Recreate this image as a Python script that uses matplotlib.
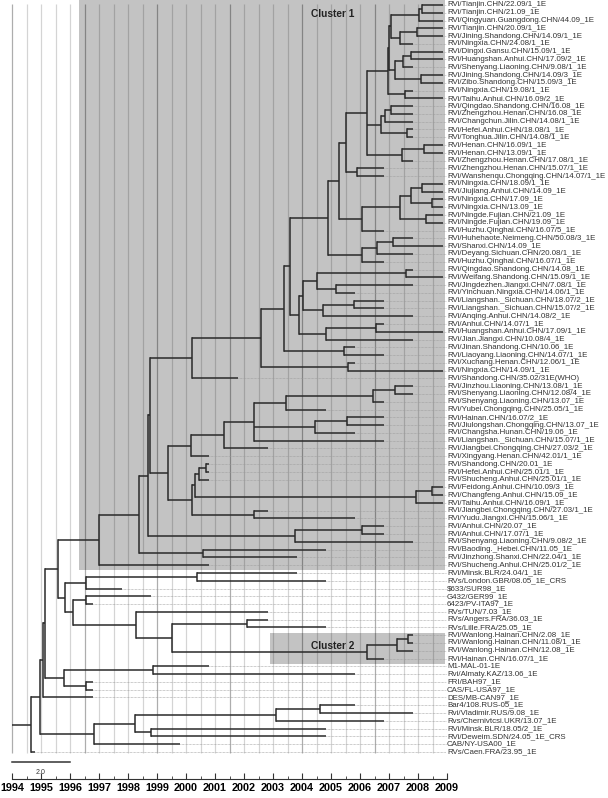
import numpy as np
import matplotlib.pyplot as plt
from matplotlib.patches import Rectangle

plt.rcParams['font.family'] = ['Liberation Sans', 'DejaVu Sans']

labels = [
    "RVi/Tianjin.CHN/22.09/1_1E", "RVi/Tianjin.CHN/21.09_1E", "RVi/Qingyuan.Guangdong.CHN/44.09_1E",
    "RVi/Tianjin.CHN/20.09/1_1E", "RVi/Jining.Shandong.CHN/14.09/1_1E", "RVi/Ningxia.CHN/24.08/1_1E",
    "RVi/Dingxi.Gansu.CHN/15.09/1_1E", "RVi/Huangshan.Anhui.CHN/17.09/2_1E", "RVi/Shenyang.Liaoning.CHN/9.08/1_1E",
    "RVi/Jining.Shandong.CHN/14.09/3_1E", "RVi/Zibo.Shandong.CHN/15.09/3_1E", "RVi/Ningxia.CHN/19.08/1_1E",
    "RVi/Taihu.Anhui.CHN/16.09/2_1E", "RVi/Qingdao.Shandong.CHN/16.08_1E", "RVi/Zhengzhou.Henan.CHN/16.08_1E",
    "RVi/Changchun.Jilin.CHN/14.08/1_1E", "RVi/Hefei.Anhui.CHN/18.08/1_1E", "RVi/Tonghua.Jilin.CHN/14.08/1_1E",
    "RVi/Henan.CHN/16.09/1_1E", "RVi/Henan.CHN/13.09/1_1E", "RVi/Zhengzhou.Henan.CHN/17.08/1_1E",
    "RVi/Zhengzhou.Henan.CHN/15.07/1_1E", "RVi/Wanshenqu.Chongqing.CHN/14.07/1_1E", "RVi/Ningxia.CHN/18.09/1_1E",
    "RVi/Jiujiang.Anhui.CHN/14.09_1E", "RVi/Ningxia.CHN/17.09_1E", "RVi/Ningxia.CHN/13.09_1E",
    "RVi/Ningde.Fujian.CHN/21.09_1E", "RVi/Ningde.Fujian.CHN/19.09_1E", "RVi/Huzhu.Qinghai.CHN/16.07/5_1E",
    "RVi/Huhehaote.Neimeng.CHN/50.08/3_1E", "RVi/Shanxi.CHN/14.09_1E", "RVi/Deyang.Sichuan.CHN/20.08/1_1E",
    "RVi/Huzhu.Qinghai.CHN/16.07/1_1E", "RVi/Qingdao.Shandong.CHN/14.08_1E", "RVi/Weifang.Shandong.CHN/15.09/1_1E",
    "RVi/Jingdezhen.Jiangxi.CHN/7.08/1_1E", "RVi/Yinchuan.Ningxia.CHN/14.06/1_1E",
    "RVi/Liangshan._Sichuan.CHN/18.07/2_1E", "RVi/Liangshan._Sichuan.CHN/15.07/2_1E",
    "RVi/Anqing.Anhui.CHN/14.08/2_1E", "RVi/Anhui.CHN/14.07/1_1E", "RVi/Huangshan.Anhui.CHN/17.09/1_1E",
    "RVi/Jian.Jiangxi.CHN/10.08/4_1E", "RVi/Jinan.Shandong.CHN/10.06_1E", "RVi/Liaoyang.Liaoning.CHN/14.07/1_1E",
    "RVi/Xuchang.Henan.CHN/12.06/1_1E", "RVi/Ningxia.CHN/14.09/1_1E", "RVi/Shandong.CHN/35.02/31E(WHO)",
    "RVi/Jinzhou.Liaoning.CHN/13.08/1_1E", "RVi/Shenyang.Liaoning.CHN/12.08/4_1E", "RVi/Shenyang.Liaoning.CHN/13.07_1E",
    "RVi/Yubei.Chongqing.CHN/25.05/1_1E", "RVi/Hainan.CHN/16.07/2_1E", "RVi/Jiulongshan.Chongqing.CHN/13.07_1E",
    "RVi/Changsha.Hunan.CHN/19.06_1E", "RVi/Liangshan._Sichuan.CHN/15.07/1_1E", "RVi/Jiangbei.Chongqing.CHN/27.03/2_1E",
    "RVi/Xingyang.Henan.CHN/42.01/1_1E", "RVi/Shandong.CHN/20.01_1E", "RVi/Hefei.Anhui.CHN/25.01/1_1E",
    "RVi/Shucheng.Anhui.CHN/25.01/1_1E", "RVi/Feidong.Anhui.CHN/10.09/3_1E", "RVi/Changfeng.Anhui.CHN/15.09_1E",
    "RVi/Taihu.Anhui.CHN/16.09/1_1E", "RVi/Jiangbei.Chongqing.CHN/27.03/1_1E", "RVi/Yudu.Jiangxi.CHN/15.06/1_1E",
    "RVi/Anhui.CHN/20.07_1E", "RVi/Anhui.CHN/17.07/1_1E", "RVi/Shenyang.Liaoning.CHN/9.08/2_1E",
    "RVi/Baoding._Hebei.CHN/11.05_1E", "RVi/Jinzhong.Shanxi.CHN/22.04/1_1E", "RVi/Shucheng.Anhui.CHN/25.01/2_1E",
    "RVi/Minsk.BLR/24.04/1_1E", "RVs/London.GBR/08.05_1E_CRS", "$633/SUR98_1E", "G432/GER99_1E",
    "6423/PV-ITA97_1E", "RVs/TUN/7.03_1E", "RVs/Angers.FRA/36.03_1E", "RVs/Lille.FRA/25.05_1E",
    "RVi/Wanlong.Hainan.CHN/2.08_1E", "RVi/Wanlong.Hainan.CHN/11.08/1_1E", "RVi/Wanlong.Hainan.CHN/12.08_1E",
    "RVi/Hainan.CHN/16.07/1_1E", "M1-MAL-01-1E", "Rvi/Almaty.KAZ/13.06_1E", "FRI/BAH97_1E",
    "CAS/FL-USA97_1E", "DES/MB-CAN97_1E", "Bar4/108.RUS-05_1E", "Rvi/Vladimir.RUS/9.08_1E",
    "Rvs/Chernivtcsi.UKR/13.07_1E", "RVi/Minsk.BLR/18.05/2_1E", "RVi/Deweim.SDN/24.05_1E_CRS",
    "CAB/NY-USA00_1E", "RVs/Caen.FRA/23.95_1E",
]

# tip position (years) of each leaf, same order as labels
tip_x = [
    2008.87, 2008.87, 2008.87, 2008.87, 2008.87, 2007.84, 2008.87, 2008.87, 2007.84, 2008.87,
    2008.87, 2007.84, 2008.87, 2007.84, 2007.84, 2007.84, 2007.84, 2007.84, 2008.87, 2008.87,
    2007.84, 2006.83, 2006.83, 2008.87, 2008.87, 2008.87, 2008.87, 2008.87, 2008.87, 2006.83,
    2007.84, 2008.87, 2007.84, 2006.83, 2007.84, 2008.87, 2007.84, 2005.83, 2006.83, 2006.83,
    2007.84, 2006.83, 2008.87, 2007.84, 2005.83, 2006.83, 2005.83, 2008.87, 2001.81, 2007.84,
    2007.84, 2006.83, 2004.83, 2006.83, 2006.83, 2005.83, 2006.83, 2002.82, 2000.80, 2000.80,
    2000.80, 2000.80, 2008.87, 2008.87, 2008.87, 2002.82, 2005.83, 2006.83, 2006.83, 2007.84,
    2004.83, 2003.82, 2000.80, 2003.82, 2004.83, 1997.80, 1998.80, 1996.78, 2002.82, 2002.82,
    2004.83, 2007.84, 2007.84, 2007.84, 2006.83, 2000.80, 2005.83, 1996.78, 1996.78, 1996.78,
    2005.83, 2007.84, 2006.83, 2004.83, 2004.83, 1999.80, 1994.80,
]

# tree topology: leaf index, ":" gives the position (year) of the internal node
n1 = "(((0,1):2008.13,2):2008.05,((3,4):2007.95,5):2007.38):2007.06"
n4 = "(((6,7):2007.76,8):2007.49,(9,10):2008.09):2007.21"
n6 = "((" + n1 + "," + n4 + "):2007.01,(11,12):2007.55):2006.98"
n7 = "(((13,14):2007.06,15):2006.86,(16,17):2007.63):2006.72"
n8 = "((18,19):2008.21,20):2007.44"
n11 = "((" + n6 + "," + n7 + "," + n8 + "):2006.23,(21,22):2005.91):2005.51"
n12 = "((((23,24):2008.13,(25,26):2008.47):2007.76,(27,28):2008.26):2007.38,29):2006.06"
n14 = "(((30,31):2007.15,32):2006.58,33):2006.06"
n15 = "((" + n11 + "," + n12 + "):2005.28," + n14 + "):2004.91"
a898 = ("((((34,35):2007.59,(36,37):2005.17):2004.51,((38,39):2005.80,40):2004.74):2004.05,"
        "((41,42):2006.54,43):2004.83):2003.91")
a575 = "((((" + n15 + "," + a898 + "):2003.59,(44,45):2005.46):2003.38,(46,47):2005.58):2002.59,48):2000.20"
b763 = "((((49,50):2007.21,51):2006.46,52):2003.45,((53,54):2005.54,55):2004.46,56):2002.36"
b572 = "((" + b763 + ",57):2001.32,58):2000.16"
b577 = "((((59,60):2000.69,61):2000.45,((62,63):2008.47,64):2007.93):2000.31,(65,66):2002.36):2000.22"
a445 = "((" + a575 + ",(" + b572 + "," + b577 + "):1999.39):1998.76,((67,68):2006.06,69):2003.76):1998.70"
cluster1 = "((" + a445 + ",(70,71):2000.60):1998.39,72):1997.01"
cluster2 = "(((81,82):2007.67,83):2007.26,84):2006.23"
g258 = "((73,74):2000.37,75):1996.55"
g218 = "((76,77):1996.55,(78,((79,80):2002.09," + cluster2 + "):1999.51):1998.28):1996.09"
g175 = "(" + cluster1 + ",(" + g258 + "," + g218 + "):1995.83):1995.60"
g192 = "((85,86):1998.85,(87,88):1996.55):1995.79"
g130 = "((" + g175 + "," + g192 + "):1995.14,89):1995.08"
g282 = "((((90,91):2004.62,92):2003.10,(93,94):1998.78):1998.24,95):1996.83"
tree = "((" + g130 + "," + g282 + "):1994.97,96):1994.64"
root_start = 1994.0

years = list(range(1994, 2010))


def parse(s, i=0):
    if s[i] == "(":
        kids = []
        i += 1
        while True:
            c, i = parse(s, i)
            kids.append(c)
            ch = s[i]
            i += 1
            if ch == ")":
                break
        j = i + 1
        while j < len(s) and s[j] not in ",)":
            j += 1
        return (kids, float(s[i + 1:j])), j
    j = i
    while j < len(s) and s[j] not in ",)":
        j += 1
    return int(s[i:j]), j


root, _ = parse(tree)

fig = plt.figure(figsize=(6.08, 7.98), dpi=100)
ax = fig.add_axes([0, 0, 1, 1])
ax.set_xlim(1994 - 12 / 29, 1994 + 596 / 29)
ax.set_ylim((798 - 5) / 7.78, -5 / 7.78)
ax.axis("off")

n = len(labels)

# cluster boxes
ax.add_patch(Rectangle((1996.31, -0.6), 2008.93 - 1996.31, 73.2, color="#c3c3c3", lw=0, zorder=0))
ax.add_patch(Rectangle((2002.9, 80.7), 2008.93 - 2002.9, 4.0, color="#c3c3c3", lw=0, zorder=0))
ax.text(2004.3, 1.2, "Cluster 1", fontsize=7.3, fontweight="bold", color="#222222", va="center", zorder=4)
ax.text(2004.3, 82.4, "Cluster 2", fontsize=7.3, fontweight="bold", color="#222222", va="center", zorder=4)

# vertical grid every half year
for g in np.arange(1994, 2008.6, 0.5):
    major = abs((g - 1994) % 2.5) < 1e-6
    ax.vlines(g, -0.1, n - 1 + 0.1, color="black", alpha=0.32 if major else 0.17, lw=0.9, zorder=1)

segs_h = []
segs_v = []


def layout(node):
    if isinstance(node, int):
        return tip_x[node], float(node)
    kids, x = node
    pos = [layout(k) for k in kids]
    for cx, cy in pos:
        segs_h.append((cy, x, cx))
    segs_v.append((x, pos[0][1], pos[-1][1]))
    return x, (pos[0][1] + pos[-1][1]) / 2


rx, ry = layout(root)
segs_h.append((ry, root_start, rx))

for y, x0, x1 in segs_h:
    ax.plot([x0, x1], [y, y], color="#2a2a2a", lw=1.1, solid_capstyle="butt", zorder=3)
for x, y0, y1 in segs_v:
    ax.plot([x, x], [y0, y1], color="#2a2a2a", lw=1.1, solid_capstyle="projecting", zorder=3)

for k in range(n):
    ax.plot([tip_x[k], 2008.95], [k, k], color="#9a9a9a", lw=0.5, ls=(0, (1, 1)), zorder=2)
    ax.text(2009.0, k, labels[k], fontsize=5.7, color="#333333", va="center", ha="left", zorder=4)

# scale bar
ax.plot([1994.0, 1996.0], [(762 - 5) / 7.78] * 2, color="#333333", lw=1.1)
ax.text(1995.0, (773 - 5) / 7.78, "2.0", fontsize=5, color="#333333", ha="center", va="center")

# time axis
ax2 = fig.add_axes([12 / 608, (798 - 779) / 798, 435 / 608, 0.001])
ax2.set_xlim(1994, 2009)
ax2.set_xticks(years)
ax2.set_xticks(np.arange(1994.5, 2009, 1.0), minor=True)
ax2.set_yticks([])
for s in ["top", "left", "right"]:
    ax2.spines[s].set_visible(False)
ax2.spines["bottom"].set_color("#333333")
ax2.tick_params(axis="x", which="major", direction="in", length=4, color="#333333", pad=3,
                labelsize=7.8)
ax2.tick_params(axis="x", which="minor", direction="in", length=2, color="#333333")
for t in ax2.get_xticklabels():
    t.set_fontweight("bold")
ax2.patch.set_visible(False)

fig.savefig("out.png", dpi=100)
